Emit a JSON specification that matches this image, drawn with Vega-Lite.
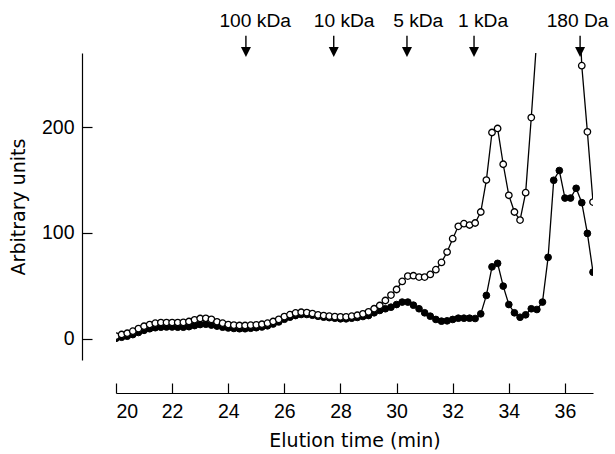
{
  "$schema": "https://vega.github.io/schema/vega-lite/v6.json",
  "width": 477,
  "height": 307,
  "autosize": {"type": "none"},
  "padding": {"left": 116, "top": 53, "right": 22, "bottom": 94},
  "background": "white",
  "config": {
    "view": {"stroke": null},
    "font": "Liberation Sans",
    "axis": {
      "grid": false,
      "domainColor": "black",
      "tickColor": "black",
      "labelColor": "black",
      "titleColor": "black",
      "labelFont": "Liberation Sans",
      "titleFont": "DejaVu Sans",
      "labelFontSize": 19.5,
      "titleFontSize": 19,
      "titleFontWeight": "normal",
      "domainWidth": 1.2,
      "tickWidth": 1.2
    }
  },
  "datasets": {
    "elution": [
      {"t": 20.0, "o": 2.5, "f": 0.5},
      {"t": 20.2, "o": 4.1, "f": 1.5},
      {"t": 20.4, "o": 5.3, "f": 2.5},
      {"t": 20.6, "o": 7.2, "f": 4},
      {"t": 20.8, "o": 9.7, "f": 6},
      {"t": 21.0, "o": 11.9, "f": 8},
      {"t": 21.2, "o": 13.5, "f": 9.5},
      {"t": 21.4, "o": 14.8, "f": 10.5},
      {"t": 21.6, "o": 15.4, "f": 11},
      {"t": 21.8, "o": 15.4, "f": 11.2},
      {"t": 22.0, "o": 15.4, "f": 11.2},
      {"t": 22.2, "o": 15.4, "f": 11},
      {"t": 22.4, "o": 15.6, "f": 11},
      {"t": 22.6, "o": 16.4, "f": 11.5},
      {"t": 22.8, "o": 18, "f": 12.5},
      {"t": 23.0, "o": 19.2, "f": 13.5},
      {"t": 23.2, "o": 19.4, "f": 13.8},
      {"t": 23.4, "o": 18.4, "f": 13},
      {"t": 23.6, "o": 16.1, "f": 12},
      {"t": 23.8, "o": 14.8, "f": 11},
      {"t": 24.0, "o": 13.5, "f": 10.3},
      {"t": 24.2, "o": 13, "f": 9.8},
      {"t": 24.4, "o": 12.6, "f": 9.5},
      {"t": 24.6, "o": 12.6, "f": 9.5},
      {"t": 24.8, "o": 12.9, "f": 10},
      {"t": 25.0, "o": 13.2, "f": 10.5},
      {"t": 25.2, "o": 13.8, "f": 11.2},
      {"t": 25.4, "o": 14.8, "f": 12.3},
      {"t": 25.6, "o": 16.4, "f": 14},
      {"t": 25.8, "o": 18.4, "f": 16},
      {"t": 26.0, "o": 21, "f": 18.5},
      {"t": 26.2, "o": 22.8, "f": 20.5},
      {"t": 26.4, "o": 24.5, "f": 22},
      {"t": 26.6, "o": 25.1, "f": 23},
      {"t": 26.8, "o": 24.8, "f": 23},
      {"t": 27.0, "o": 23.9, "f": 22.3},
      {"t": 27.2, "o": 22.6, "f": 21.3},
      {"t": 27.4, "o": 22, "f": 20.5},
      {"t": 27.6, "o": 21.4, "f": 20},
      {"t": 27.8, "o": 21, "f": 19.5},
      {"t": 28.0, "o": 20.8, "f": 18.9},
      {"t": 28.2, "o": 20.8, "f": 18.9},
      {"t": 28.4, "o": 21.4, "f": 19.5},
      {"t": 28.6, "o": 22.3, "f": 20.2},
      {"t": 28.8, "o": 23.6, "f": 21.1},
      {"t": 29.0, "o": 25.5, "f": 22},
      {"t": 29.2, "o": 28.4, "f": 24.6},
      {"t": 29.4, "o": 31.5, "f": 26.8},
      {"t": 29.6, "o": 36.2, "f": 28.4},
      {"t": 29.8, "o": 41.3, "f": 29.9},
      {"t": 30.0, "o": 46.6, "f": 32.4},
      {"t": 30.2, "o": 54.2, "f": 34.7},
      {"t": 30.4, "o": 59.3, "f": 34.7},
      {"t": 30.6, "o": 59.6, "f": 31.8},
      {"t": 30.8, "o": 58.3, "f": 28.4},
      {"t": 31.0, "o": 58.3, "f": 24.6},
      {"t": 31.2, "o": 60.8, "f": 21.4},
      {"t": 31.4, "o": 65.3, "f": 18.3},
      {"t": 31.6, "o": 72.2, "f": 16.7},
      {"t": 31.8, "o": 82, "f": 17},
      {"t": 32.0, "o": 94.6, "f": 18.3},
      {"t": 32.2, "o": 106.3, "f": 19.5},
      {"t": 32.4, "o": 108.8, "f": 19.5},
      {"t": 32.6, "o": 107.5, "f": 19.5},
      {"t": 32.8, "o": 109.4, "f": 19.2},
      {"t": 33.0, "o": 119.8, "f": 23.6},
      {"t": 33.2, "o": 150, "f": 41},
      {"t": 33.4, "o": 194.9, "f": 68},
      {"t": 33.6, "o": 198.7, "f": 71.3},
      {"t": 33.8, "o": 164.9, "f": 49.8},
      {"t": 34.0, "o": 135.6, "f": 32.4},
      {"t": 34.2, "o": 119.8, "f": 24.6},
      {"t": 34.4, "o": 112.2, "f": 20.4},
      {"t": 34.6, "o": 138.1, "f": 22.7},
      {"t": 34.8, "o": 209, "f": 28.4},
      {"t": 35.0, "o": 285, "f": 27.7},
      {"t": 35.2, "o": 340, "f": 34.7},
      {"t": 35.4, "o": 400, "f": 77},
      {"t": 35.6, "o": 430, "f": 149.8},
      {"t": 35.8, "o": 450, "f": 159},
      {"t": 36.0, "o": 440, "f": 133},
      {"t": 36.2, "o": 420, "f": 133},
      {"t": 36.4, "o": 380, "f": 142.2},
      {"t": 36.6, "o": 258, "f": 128.6},
      {"t": 36.8, "o": 195.5, "f": 99.6},
      {"t": 37.0, "o": 129.2, "f": 63}
    ],
    "markers": [
      {"t": 24.63, "tl": 24.96, "label": "100 kDa"},
      {"t": 27.76, "tl": 28.13, "label": "10 kDa"},
      {"t": 30.37, "tl": 30.77, "label": "5 kDa"},
      {"t": 32.76, "tl": 33.08, "label": "1 kDa"},
      {"t": 36.54, "tl": 36.45, "label": "180 Da"}
    ]
  },
  "layer": [
    {
      "data": {"name": "elution"},
      "mark": {"type": "line", "clip": true, "color": "black", "strokeWidth": 1.3},
      "encoding": {
        "x": {"field": "t", "type": "quantitative", "scale": {"domain": [20, 37], "nice": false, "zero": false},
          "axis": {"values": [20, 22, 24, 26, 28, 30, 32, 34, 36], "offset": 33, "tickSize": -10, "labelPadding": 19.5, "title": "Elution time (min)", "titlePadding": 10}},
        "y": {"field": "f", "type": "quantitative", "scale": {"domain": [-20, 270], "nice": false, "zero": false},
          "axis": {"values": [0, 100, 200], "offset": 34, "tickSize": -10, "labelPadding": 18, "title": "Arbitrary units", "titlePadding": 13}}
      }
    },
    {
      "data": {"name": "elution"},
      "mark": {"type": "point", "clip": true, "shape": "circle", "filled": true, "fill": "black", "stroke": "black", "strokeWidth": 1, "size": 45, "opacity": 1},
      "encoding": {
        "x": {"field": "t", "type": "quantitative"},
        "y": {"field": "f", "type": "quantitative"}
      }
    },
    {
      "data": {"name": "elution"},
      "mark": {"type": "line", "clip": true, "color": "black", "strokeWidth": 1.3},
      "encoding": {
        "x": {"field": "t", "type": "quantitative"},
        "y": {"field": "o", "type": "quantitative"}
      }
    },
    {
      "data": {"name": "elution"},
      "mark": {"type": "point", "clip": true, "shape": "circle", "filled": true, "fill": "white", "stroke": "black", "strokeWidth": 1.3, "size": 42, "opacity": 1},
      "encoding": {
        "x": {"field": "t", "type": "quantitative"},
        "y": {"field": "o", "type": "quantitative"}
      }
    },
    {
      "data": {"name": "markers"},
      "mark": {"type": "text", "fontSize": 19.2, "font": "Liberation Sans", "color": "black", "align": "center", "baseline": "alphabetic"},
      "encoding": {
        "x": {"field": "tl", "type": "quantitative"},
        "y": {"datum": 294.8},
        "text": {"field": "label"}
      }
    },
    {
      "data": {"name": "markers"},
      "mark": {"type": "rule", "color": "black", "strokeWidth": 1.4},
      "encoding": {
        "x": {"field": "t", "type": "quantitative"},
        "y": {"datum": 286.3},
        "y2": {"datum": 274}
      }
    },
    {
      "data": {"name": "markers"},
      "mark": {"type": "point", "shape": "M-1,-1L1,-1L0,1Z", "filled": true, "fill": "black", "stroke": null, "size": 100, "opacity": 1},
      "encoding": {
        "x": {"field": "t", "type": "quantitative"},
        "y": {"datum": 270.9}
      }
    }
  ]
}
